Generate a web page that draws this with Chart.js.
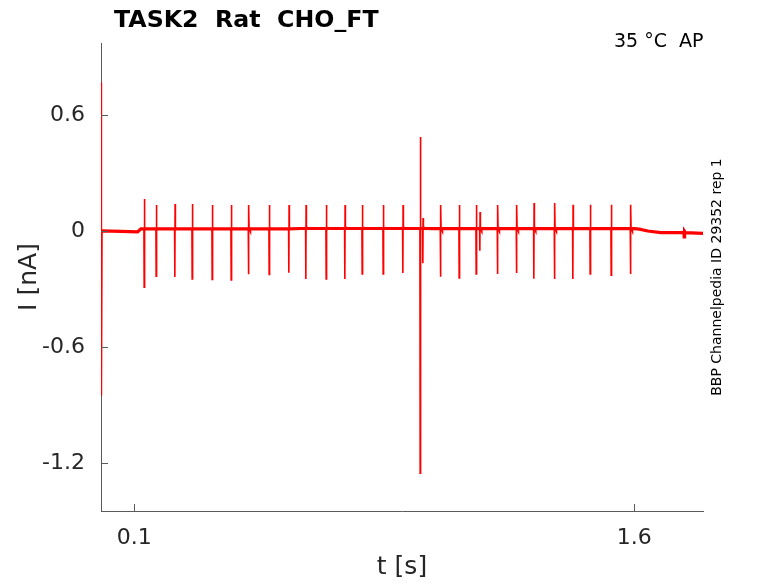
<!DOCTYPE html>
<html><head><meta charset="utf-8">
<script src="https://cdn.jsdelivr.net/npm/chart.js@4.4.0/dist/chart.umd.min.js"></script>
<style>html,body{margin:0;padding:0;background:#fff;overflow:hidden}#wrap{position:relative;width:778px;height:583px}</style>
</head><body><div id="wrap"><canvas id="c" width="778" height="583"></canvas></div>
<script>
const titleText = 'TASK2  Rat  CHO_FT';
const condText = '35 °C  AP';
const sideText = 'BBP Channelpedia ID 29352 rep 1';
const xTitle = 't [s]';
const yTitle = 'I [nA]';
const xTicks = [0.1, 1.6];
const yTicks = [0.6, 0, -0.6, -1.2];
const xRange = [0, 1.806];
const yRange = [-1.448, 0.9725];

// initial transient
const onsetTimes = [0, 0.0008, 0.0016, 0.003];
const onsetValues = [0.0, 0.77, -0.85, 0.0];

// baseline levels (nA)
const baseTimes  = [0.004, 0.06, 0.11, 0.12, 0.6, 1.0, 1.6, 1.615, 1.64, 1.68, 1.806];
const baseLevels = [0.001, -0.002, -0.004, 0.011, 0.013, 0.012, 0.012, 0.01, 0.0, -0.008, -0.012];

// spikes
const pulseTimes = [0.130,0.166,0.222,0.274,0.334,0.391,0.443,0.505,0.564,0.615,0.676,0.732,0.784,0.847,0.906,0.958,0.966,1.019,1.075,1.126,1.137,1.190,1.247,1.299,1.361,1.416,1.468,1.531,1.589,1.75];
const pulseUp    = [0.166,0.135,0.14,0.14,0.135,0.135,0.135,0.135,0.135,0.135,0.135,0.135,0.135,0.135,0.135,0.486,0.067,0.135,0.135,0.135,0.098,0.135,0.135,0.145,0.145,0.136,0.136,0.136,0.136,-0.008];
const pulseDown  = [-0.29,-0.233,-0.238,-0.248,-0.25,-0.253,-0.224,-0.224,-0.216,-0.248,-0.248,-0.248,-0.222,-0.222,-0.217,-1.252,-0.166,-0.236,-0.243,-0.222,-0.102,-0.222,-0.217,-0.247,-0.248,-0.248,-0.222,-0.228,-0.222,-0.03];

function baseAt(t){
  let v = baseLevels[0];
  for (let i = 0; i < baseTimes.length; i++) if (baseTimes[i] <= t) v = baseLevels[i];
  return v;
}
const pts = [];
onsetTimes.forEach((t,i)=>pts.push({x:t,y:onsetValues[i]}));
baseTimes.forEach((t,i)=>pts.push({x:t,y:baseLevels[i]}));
pulseTimes.forEach((t,i)=>{
  const b = baseAt(t);
  pts.push({x:t-0.0012,y:b});
  pts.push({x:t-0.0005,y:pulseDown[i]});
  pts.push({x:t+0.0003,y:pulseUp[i]});
  pts.push({x:t+0.0012,y:b+0.006});
  pts.push({x:t+0.003,y:b});
});
pts.sort((a,b)=>a.x-b.x);

const TXT = '#262626', AX = '#5a5a5a', FONT = 'DejaVu Sans';

const decor = {
  id:'decor',
  afterDraw(chart){
    const ctx = chart.ctx, a = chart.chartArea;
    const xs = chart.scales.x, ys = chart.scales.y;
    ctx.save();
    ctx.strokeStyle = AX; ctx.lineWidth = 1;
    ctx.beginPath();
    xTicks.forEach(v=>{const p=Math.round(xs.getPixelForValue(v))+0.5; ctx.moveTo(p,a.bottom); ctx.lineTo(p,a.bottom-7);});
    yTicks.forEach(v=>{const p=Math.round(ys.getPixelForValue(v))+0.5; ctx.moveTo(a.left,p); ctx.lineTo(a.left+7,p);});
    ctx.stroke();
    ctx.fillStyle = '#000';
    ctx.textBaseline = 'alphabetic';
    ctx.textAlign = 'left';
    ctx.font = 'bold 23.7px "' + FONT + '"';
    ctx.fillText(titleText, 114, 27);
    ctx.font = '19px "' + FONT + '"';
    ctx.fillText(condText, 614, 47);
    ctx.translate(717, 277);
    ctx.rotate(-Math.PI/2);
    ctx.font = '14px "' + FONT + '"';
    ctx.textAlign = 'center'; ctx.textBaseline = 'middle';
    ctx.fillText(sideText, 0, 0);
    ctx.restore();
  }
};

new Chart(document.getElementById('c'), {
  type:'line',
  data:{datasets:[{
    data: pts,
    borderColor:'#ff0000',
    borderWidth:1.6,
    pointRadius:0,
    tension:0,
    segment:{ borderWidth: c => (Math.abs(c.p1.parsed.y - c.p0.parsed.y) < 0.03 ? 3.2 : 1.6) }
  }]},
  options:{
    responsive:false, animation:false, devicePixelRatio:1,
    layout:{padding:{left:0,right:75,top:43,bottom:0}},
    plugins:{legend:{display:false},title:{display:false},tooltip:{enabled:false}},
    scales:{
      x:{type:'linear',min:xRange[0],max:xRange[1],
        afterFit(s){s.height=72;},
        afterBuildTicks(s){s.ticks = xTicks.map(v=>({value:v}));},
        grid:{display:false,drawTicks:false},
        border:{display:true,color:AX,width:1},
        ticks:{padding:14,color:TXT,font:{family:FONT,size:22},maxRotation:0,autoSkip:false,callback:v=>String(v)},
        title:{display:true,text:xTitle,color:TXT,font:{family:FONT,size:25},padding:{top:0,bottom:1}}
      },
      y:{type:'linear',min:yRange[0],max:yRange[1],
        afterFit(s){s.width=101;},
        afterBuildTicks(s){s.ticks = yTicks.map(v=>({value:v}));},
        grid:{display:false,drawTicks:false},
        border:{display:true,color:AX,width:1},
        ticks:{padding:16,color:TXT,font:{family:FONT,size:22},autoSkip:false,callback:v=>String(v)},
        title:{display:true,text:yTitle,color:TXT,font:{family:FONT,size:25},padding:{top:14,bottom:0}}
      }
    }
  },
  plugins:[decor]
});
</script></body></html>
